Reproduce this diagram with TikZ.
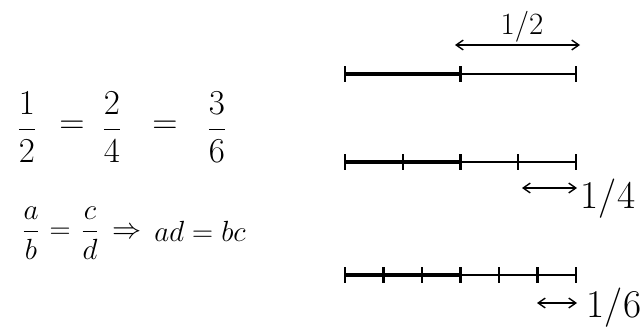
\documentclass[tikz,border=0pt]{standalone}
\usepackage{amsmath}
\usepackage{amssymb}
\usetikzlibrary{arrows.meta,calc}

\begin{document}
\begin{tikzpicture}[x=0.025cm,y=-0.025cm,
		whole/.style={line width=1pt},
		part/.style={line width=3.2pt},
		tickmark/.style={line width=1.5pt},
		span/.style={{Straight Barb[length=5pt,width=7pt]}-{Straight Barb[length=5pt,width=7pt]}, line width=1pt},
		bigeq/.style={font=\fontsize{27}{30}\selectfont},
		smalleq/.style={font=\fontsize{20}{24}\selectfont},
		share/.style={font=\fontsize{#1}{#1}\selectfont}]
	\useasboundingbox (0,0) rectangle (640,329);

	% equal fractions
	\node[bigeq] (half) at (27,127) {$\dfrac{1}{2}$};
	\node[bigeq] (eqa) at (72,127) {$=$};
	\node[bigeq] (quarters) at (112,127) {$\dfrac{2}{4}$};
	\node[bigeq] (eqb) at (165,127) {$=$};
	\node[bigeq] (sixths) at (217,127) {$\dfrac{3}{6}$};

	% cross product rule
	\node[smalleq] (ab) at (31,233) {$\dfrac{a}{b}$};
	\node[smalleq] (eqc) at (60,233) {$=$};
	\node[smalleq] (cd) at (90,233) {$\dfrac{c}{d}$};
	\node[smalleq] (impl) at (127,233) {$\Rightarrow$};
	\node[smalleq] (cross) at (200,231) {$ad=bc$};

	% bars cut in 2, 4 and 6 parts, left half thick
	\foreach \row/\y/\n in {two/74/2, four/162/4, six/275/6} {
		\coordinate (\row-l) at (345,\y);
		\coordinate (\row-m) at (461,\y);
		\coordinate (\row-r) at (576,\y);
		\draw[whole] (\row-l) -- (\row-r);
		\draw[part] (\row-l) -- (\row-m);
		\foreach \k in {0,...,\n}
			\draw[tickmark] ($(\row-l)!\k/\n!(\row-r)$) ++(0,-8) -- ++(0,16);
	}

	% size of one part
	\coordinate (halfa) at (455,45);
	\coordinate (halfb) at (580,45);
	\draw[span] (halfa) -- (halfb);
	\node[share=22] (halflbl) at (522,27) {1/2};

	\coordinate (quarta) at (522,188);
	\coordinate (quartb) at (577,188);
	\draw[span] (quarta) -- (quartb);
	\node[share=28] (quartlbl) at (608,199) {1/4};

	\coordinate (sixa) at (537,303);
	\coordinate (sixb) at (577,303);
	\draw[span] (sixa) -- (sixb);
	\node[share=28] (sixlbl) at (614,308) {1/6};
\end{tikzpicture}
\end{document}
